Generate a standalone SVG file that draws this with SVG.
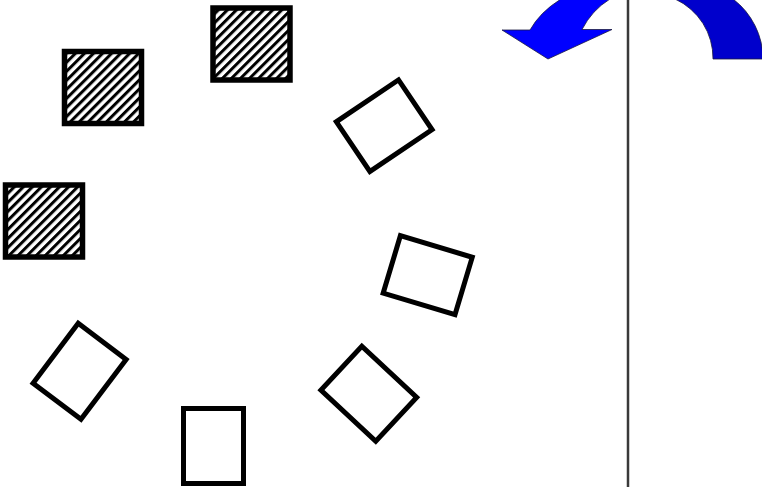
<svg xmlns="http://www.w3.org/2000/svg" width="762" height="487" viewBox="0 0 762 487">
<style>
.hatch{fill:url(#hp);stroke:#000;stroke-width:5.5}
.box{fill:#fff;stroke:#000;stroke-width:5}
.arrow{stroke:#1a1a40;stroke-width:0.8;stroke-linejoin:round}
</style>
<defs>
<pattern id="hp" patternUnits="userSpaceOnUse" width="6.4" height="6.4" patternTransform="rotate(45)">
<rect width="6.4" height="6.4" fill="#fff"/>
<rect x="0" y="0" width="3" height="6.4" fill="#000"/>
</pattern>
</defs>
<rect width="762" height="487" fill="#fff"/>
<g id="hatched1"><rect class="hatch" x="64.5" y="51.5" width="77" height="72"/></g>
<g id="hatched2"><rect class="hatch" x="213" y="8" width="77" height="72"/></g>
<g id="hatched3"><rect class="hatch" x="5.5" y="185" width="77" height="72"/></g>
<g id="box1"><rect class="box" x="-37.5" y="-30" width="75" height="60" transform="translate(384.2,125.7) rotate(-34)"/></g>
<g id="box2"><rect class="box" x="-37.5" y="-30" width="75" height="60" transform="translate(427.7,275.2) rotate(16.7)"/></g>
<g id="box3"><rect class="box" x="-37.5" y="-30" width="75" height="60" transform="translate(368.8,393.7) rotate(43)"/></g>
<g id="box4"><rect class="box" x="-37.5" y="-30" width="75" height="60" transform="translate(213.5,446) rotate(90)"/></g>
<g id="box5"><rect class="box" x="-37.5" y="-30" width="75" height="60" transform="translate(79.6,371.3) rotate(-53)"/></g>
<g id="connectors">
<line x1="628" y1="0" x2="628" y2="487" stroke="#3a3a3a" stroke-width="2.5"/>
<path class="arrow" fill="#0000ff" d="M561,-1 Q540,12 530,30 L502,30 L548,59 L612,29.5 L582,29.5 Q592,10 610,-1 Z"/>
<path class="arrow" fill="#0000cc" d="M675,-1 A65,65 0 0 1 713,59 L763,59 A76,76 0 0 0 733,-1 Z"/>
</g>
</svg>
